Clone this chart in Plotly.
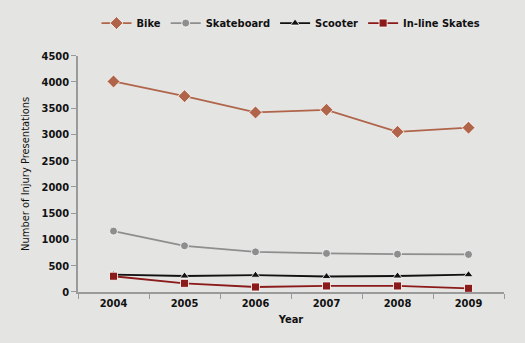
import plotly.graph_objects as go

years = ["2004", "2005", "2006", "2007", "2008", "2009"]
bike = [4010, 3730, 3420, 3470, 3050, 3130]
skateboard = [1160, 880, 765, 735, 720, 715]
scooter = [330, 305, 320, 295, 305, 330]
inline = [300, 165, 95, 115, 115, 70]

series = [
    ("Bike", bike, "#b0654a", "diamond", 10),
    ("Skateboard", skateboard, "#8e8e8e", "circle", 8),
    ("Scooter", scooter, "#111111", "triangle-up", 8),
    ("In-line Skates", inline, "#8b1a1a", "square", 8),
]

font = "DejaVu Sans Condensed"
fig = go.Figure()
for name, vals, col, sym, sz in series:
    fig.add_trace(go.Scatter(
        x=years, y=vals, name=name, mode="lines+markers",
        line=dict(color=col, width=1.8),
        marker=dict(symbol=sym, size=sz, color=col, line=dict(color="white", width=0.8)),
    ))

fig.update_layout(
    width=525, height=343,
    paper_bgcolor="#e4e4e2", plot_bgcolor="#e4e4e2",
    margin=dict(l=78, r=21, t=45, b=51),
    font=dict(family=font, size=11, color="#111111", weight="bold"),
    legend=dict(orientation="h", x=0.5, xanchor="center", y=0.975, yanchor="top",
                yref="container", font=dict(size=11, weight="bold"),
                itemwidth=30, tracegroupgap=0, bgcolor="rgba(0,0,0,0)"),
    showlegend=True,
)
fig.update_xaxes(
    type="category", range=[-0.5, 5.5], showgrid=False, zeroline=False,
    showline=True, linecolor="#9a9a9a", linewidth=1.5,
    ticks="outside", tickson="boundaries", ticklen=5, tickcolor="#9a9a9a",
    title=dict(text="Year", standoff=6, font=dict(size=11, weight="bold")),
    tickfont=dict(size=11, weight="bold"),
)
fig.update_yaxes(
    range=[0, 4500], dtick=500, showgrid=False, zeroline=False,
    showline=True, linecolor="#9a9a9a", linewidth=1.5,
    ticks="outside", ticklen=5, tickcolor="#9a9a9a",
    title=dict(text="Number of Injury Presentations", standoff=10, font=dict(size=11, weight="normal")),
    tickfont=dict(size=11, weight="bold"),
)
fig.write_html("out.html")
